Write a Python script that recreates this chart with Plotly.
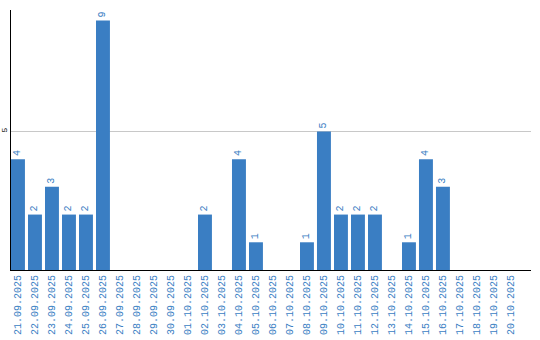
import plotly.graph_objects as go

dates = ["21.09.2025","22.09.2025","23.09.2025","24.09.2025","25.09.2025","26.09.2025",
         "27.09.2025","28.09.2025","29.09.2025","30.09.2025","01.10.2025","02.10.2025",
         "03.10.2025","04.10.2025","05.10.2025","06.10.2025","07.10.2025","08.10.2025",
         "09.10.2025","10.10.2025","11.10.2025","12.10.2025","13.10.2025","14.10.2025",
         "15.10.2025","16.10.2025","17.10.2025","18.10.2025","19.10.2025","20.10.2025"]
counts = [4,2,3,2,2,9,0,0,0,0,0,2,0,4,1,0,0,1,5,2,2,2,0,1,4,3,0,0,0,0]

blue = "#3a7ec3"
fig = go.Figure(go.Bar(
    x=dates, y=counts,
    text=[str(v) if v else "" for v in counts],
    textposition="outside", textangle=-90,
    textfont=dict(family="Liberation Mono", size=10, color=blue),
    marker=dict(color=blue, line=dict(width=0)),
    cliponaxis=False,
))
fig.update_layout(
    width=540, height=340,
    margin=dict(l=11, r=9, t=10, b=70),
    plot_bgcolor="white", paper_bgcolor="white",
    bargap=0.18, showlegend=False,
    uniformtext=dict(minsize=10, mode="show"),
)
fig.update_xaxes(
    type="category", tickangle=-90, showgrid=False, ticks="",
    tickfont=dict(family="Liberation Mono", size=10, color=blue),
    showline=True, linecolor="black", linewidth=1,
    range=[-0.41, 30.18], automargin=False,
)
fig.update_yaxes(
    range=[0, 9.38], tickvals=[5], ticktext=["5"], tickangle=-90,
    tickfont=dict(family="Liberation Mono", size=8, color="black"),
    showgrid=True, gridcolor="#c8c8c8", gridwidth=1,
    showline=True, linecolor="black", linewidth=1,
    zeroline=False, ticks="", automargin=False, ticklabelstandoff=0,
)
fig.write_html("out.html")
